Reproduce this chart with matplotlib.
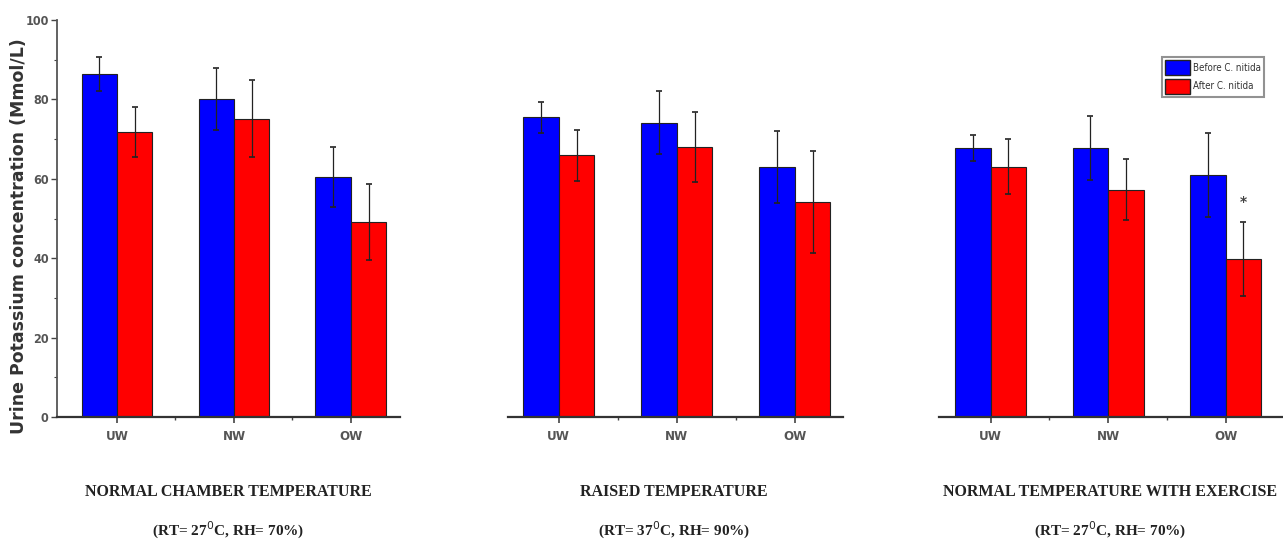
import matplotlib
matplotlib.use("Agg")
import matplotlib.pyplot as plt
import numpy as np
from matplotlib.patches import Patch
from matplotlib.ticker import MultipleLocator, FixedLocator

categories = ["UW", "NW", "OW"]
series_names = ["Before C. nitida", "After C. nitida"]

before_normal = [86.4, 80.1, 60.5]
before_normal_err = [4.3, 7.7, 7.5]
after_normal = [71.8, 75.1, 49.1]
after_normal_err = [6.4, 9.7, 9.6]

before_raised = [75.5, 74.1, 63.0]
before_raised_err = [3.9, 7.9, 9.0]
after_raised = [65.9, 68.0, 54.1]
after_raised_err = [6.5, 8.9, 12.8]

before_exercise = [67.8, 67.8, 61.0]
before_exercise_err = [3.3, 8.1, 10.5]
after_exercise = [63.0, 57.3, 39.9]
after_exercise_err = [6.9, 7.8, 9.3]

panel_titles = ["NORMAL CHAMBER TEMPERATURE", "RAISED TEMPERATURE",
                "NORMAL TEMPERATURE WITH EXERCISE"]
panel_conditions = ["(RT= 27$^{0}$C, RH= 70%)", "(RT= 37$^{0}$C, RH= 90%)",
                    "(RT= 27$^{0}$C, RH= 70%)"]
y_label = "Urine Potassium concentration (Mmol/L)"

panels = [
    (before_normal, before_normal_err, after_normal, after_normal_err),
    (before_raised, before_raised_err, after_raised, after_raised_err),
    (before_exercise, before_exercise_err, after_exercise, after_exercise_err),
]

W, H = 1283, 548
fig = plt.figure(figsize=(W / 100, H / 100), dpi=100)

boxes = [(57, 400), (508, 843), (939, 1282)]
xlims = [(-0.513, 2.42), (-0.43, 2.41), (-0.44, 2.48)]
y0_px, y100_px = 417, 20
bw = 0.303
blue = "#0000FF"
red = "#FF0000"
tick_color = "#444444"

for i, ((l, r), xl, data) in enumerate(zip(boxes, xlims, panels)):
    ax = fig.add_axes([l / W, 1 - y0_px / H, (r - l) / W, (y0_px - y100_px) / H])
    b, be, a, ae = data
    x = np.arange(len(categories))
    ax.bar(x - bw / 2, b, bw, color=blue, edgecolor="#222222", linewidth=0.8, zorder=2)
    ax.bar(x + bw / 2, a, bw, color=red, edgecolor="#222222", linewidth=0.8, zorder=2)
    ax.errorbar(x - bw / 2, b, yerr=be, fmt="none", ecolor="#222222",
                elinewidth=0.9, capsize=2.5, capthick=1.2, zorder=3)
    ax.errorbar(x + bw / 2, a, yerr=ae, fmt="none", ecolor="#222222",
                elinewidth=0.9, capsize=2.5, capthick=1.2, zorder=3)
    ax.set_xlim(*xl)
    ax.set_ylim(0, 100)
    ax.set_xticks(x)
    ax.set_xticklabels(categories, fontsize=9.5, fontweight="bold",
                       color="#555555", fontstretch="condensed")
    ax.xaxis.set_minor_locator(FixedLocator([0.5, 1.5]))
    ax.tick_params(axis="x", which="major", direction="out", length=4, width=1.2,
                   color=tick_color, pad=5)
    ax.tick_params(axis="x", which="minor", direction="out", length=2.5, width=1.0,
                   color=tick_color)
    for s in ["top", "right"]:
        ax.spines[s].set_visible(False)
    ax.spines["bottom"].set_linewidth(1.6)
    ax.spines["bottom"].set_color("#333333")
    if i == 0:
        ax.spines["left"].set_linewidth(1.3)
        ax.spines["left"].set_color("#555555")
        ax.set_yticks(np.arange(0, 101, 20))
        ax.yaxis.set_minor_locator(MultipleLocator(10))
        ax.tick_params(axis="y", which="major", direction="out", length=4, width=1.0,
                       color=tick_color, labelsize=9, labelcolor="#555555", pad=2)
        ax.tick_params(axis="y", which="minor", direction="out", length=2.5, width=0.8,
                       color=tick_color)
        for t in ax.get_yticklabels():
            t.set_fontweight("bold")
            t.set_fontstretch("condensed")
        ax.set_ylabel(y_label, fontsize=12.5, fontweight="bold", color="#333333")
        ax.yaxis.set_label_coords(-0.085, 0.455)
    else:
        ax.spines["left"].set_visible(False)
        ax.set_yticks([])
    if i == 2:
        ax.text(2 + bw / 2, a[2] + ae[2] + 5, "*", ha="center", va="center",
                fontsize=10, color="#444444", fontweight="bold")
        handles = [Patch(facecolor=blue, edgecolor="#222222"),
                   Patch(facecolor=red, edgecolor="#222222")]
        leg = fig.legend(handles, series_names, loc="upper left",
                         bbox_to_anchor=(1162 / W, 1 - 57 / H),
                         fontsize=7, frameon=True, fancybox=False,
                         edgecolor="#777777", handlelength=2.6, handleheight=2.0,
                         handletextpad=0.3, borderpad=0.3, labelspacing=0.4,
                         borderaxespad=0)
        leg.get_frame().set_linewidth(1.5)
        for t in leg.get_texts():
            t.set_fontstretch("condensed")
            t.set_color("#333333")

centers = [228, 674, 1110]
for c, t1, t2 in zip(centers, panel_titles, panel_conditions):
    fig.text(c / W, 1 - 492 / H, t1, ha="center", va="center", fontsize=11.5,
             fontweight="bold", family="Liberation Serif", color="#222222")
    fig.text(c / W, 1 - 530 / H, t2, ha="center", va="center", fontsize=11,
             fontweight="bold", family="Liberation Serif", color="#222222")

fig.savefig("out.png", dpi=100)
